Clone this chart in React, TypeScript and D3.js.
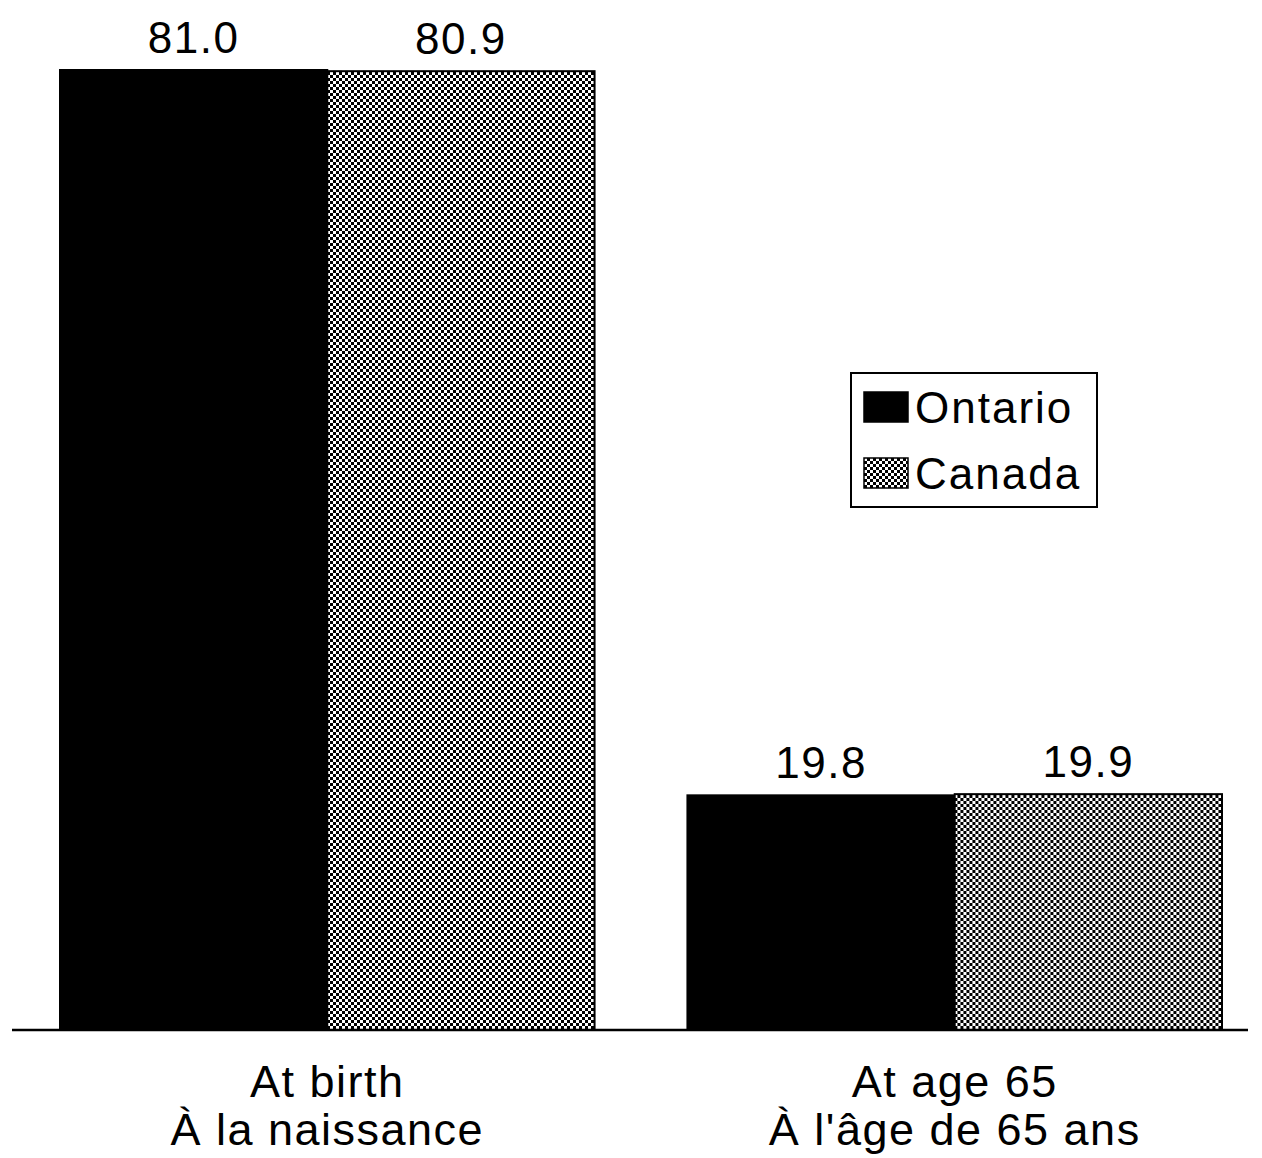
import React from 'react';
import * as d3 from 'd3';

// categories (two lines each)
const categories = ['birth', 'age65'];
const categoryLines: string[][] = [
  ['At birth', 'À la naissance'],
  ['At age 65', "À l'âge de 65 ans"],
];
const seriesNames = ['Ontario', 'Canada'];
const ontarioValues = [81.0, 19.8];
const canadaValues = [80.9, 19.9];
const valueLabels = [
  ['81.0', '80.9'],
  ['19.8', '19.9'],
];

const W = 1262, H = 1158;
const FONT = '"Liberation Sans", Arial, Helvetica, sans-serif';

export default function App() {
  const baseY = 1030;

  const x0 = d3.scaleBand<string>()
    .domain(categories)
    .range([60, 1222])
    .paddingInner(0.148)
    .paddingOuter(0);

  const x1 = d3.scaleBand<string>()
    .domain(seriesNames)
    .range([0, x0.bandwidth()])
    .padding(0);

  const y = d3.scaleLinear()
    .domain([0, 81])
    .range([baseY, 70]);

  const fills: Record<string, string> = {
    Ontario: '#000',
    Canada: 'url(#checker)',
  };

  const rows = categories.map((c, i) => ({
    cat: c,
    vals: [
      { name: 'Ontario', v: ontarioValues[i], label: valueLabels[i][0] },
      { name: 'Canada', v: canadaValues[i], label: valueLabels[i][1] },
    ],
  }));

  return (
    <svg width={W} height={H} style={{ position: 'absolute', left: 0, top: 0, background: '#fff' }}>
      <defs>
        <pattern id="checker" width={6} height={6} patternUnits="userSpaceOnUse">
          <rect width={6} height={6} fill="#000" />
          <rect x={0} y={0} width={3} height={3} fill="#fff" />
          <rect x={3} y={3} width={3} height={3} fill="#fff" />
        </pattern>
      </defs>

      {rows.map(r => (
        <g key={r.cat} transform={`translate(${x0(r.cat)},0)`}>
          {r.vals.map(d => (
            <g key={d.name}>
              <rect
                x={x1(d.name)}
                y={y(d.v)}
                width={x1.bandwidth()}
                height={baseY - y(d.v)}
                fill={fills[d.name]}
                stroke="#000"
                strokeWidth={2}
              />
              <text
                x={(x1(d.name) ?? 0) + x1.bandwidth() / 2}
                y={y(d.v) - 17}
                textAnchor="middle"
                fontFamily={FONT}
                fontSize={44}
                letterSpacing={1.5}
                fill="#000"
              >
                {d.label}
              </text>
            </g>
          ))}
        </g>
      ))}

      {/* baseline */}
      <line x1={12} x2={1248} y1={baseY} y2={baseY} stroke="#000" strokeWidth={2.5} />

      {/* category labels */}
      {categories.map((c, i) => (
        <text
          key={c}
          x={(x0(c) ?? 0) + x0.bandwidth() / 2}
          y={1097}
          textAnchor="middle"
          fontFamily={FONT}
          fontSize={45}
          letterSpacing={1.5}
          fill="#000"
        >
          {categoryLines[i].map((line, j) => (
            <tspan key={j} x={(x0(c) ?? 0) + x0.bandwidth() / 2} dy={j === 0 ? 0 : 48}>
              {line}
            </tspan>
          ))}
        </text>
      ))}

      {/* legend */}
      <g transform="translate(851,373)">
        <rect width={246} height={134} fill="#fff" stroke="#000" strokeWidth={2} />
        {seriesNames.map((s, i) => (
          <g key={s} transform={`translate(13,${19 + i * 66})`}>
            <rect width={44} height={30} fill={fills[s]} stroke="#000" strokeWidth={1.5} />
            <text x={51} y={31} fontFamily={FONT} fontSize={44} letterSpacing={2} fill="#000">
              {s}
            </text>
          </g>
        ))}
      </g>
    </svg>
  );
}
